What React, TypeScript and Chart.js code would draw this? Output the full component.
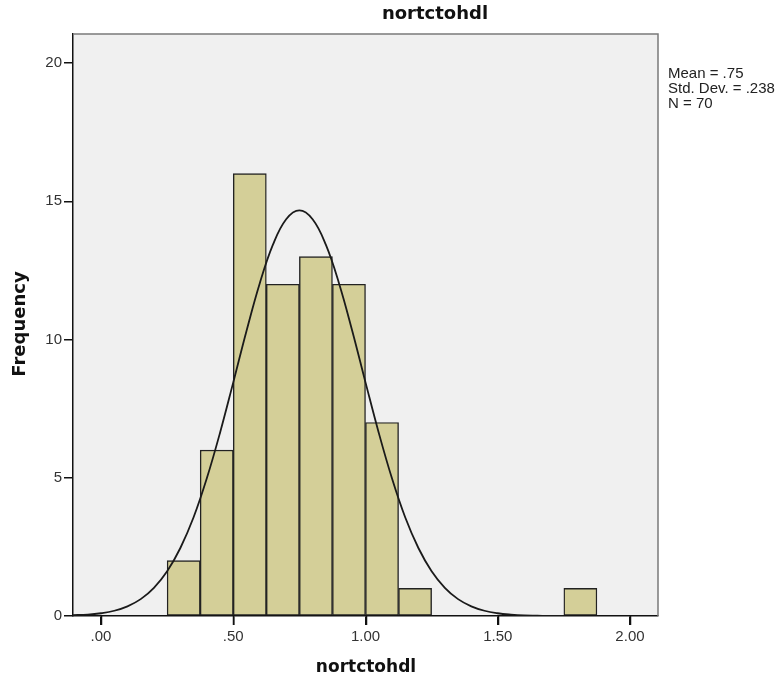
import React, { useEffect, useRef } from "react";
import { Chart, registerables } from "chart.js";

Chart.register(...registerables);

// Histogram bins (centre of each 0.125-wide bin) and frequencies
const binCenters = [0.3125, 0.4375, 0.5625, 0.6875, 0.8125, 0.9375, 1.0625, 1.1875, 1.8125];
const frequencies = [2, 6, 16, 12, 13, 12, 7, 1, 1];

// Normal curve
const curveX = [-0.11, -0.05, 0, 0.05, 0.1, 0.15, 0.2, 0.25, 0.3, 0.35, 0.4, 0.45, 0.5, 0.55, 0.6, 0.65, 0.7, 0.75, 0.8, 0.85, 0.9, 0.95, 1.0, 1.05, 1.1, 1.15, 1.2, 1.25, 1.3, 1.35, 1.4, 1.45, 1.5, 1.55, 1.6, 1.65, 1.7, 1.75];
const curveY = [0.03, 0.05, 0.1, 0.19, 0.35, 0.61, 1.02, 1.62, 2.46, 3.57, 4.98, 6.63, 8.45, 10.31, 12.03, 13.43, 14.35, 14.67, 14.35, 13.43, 12.03, 10.31, 8.45, 6.63, 4.98, 3.57, 2.46, 1.62, 1.02, 0.61, 0.35, 0.19, 0.1, 0.05, 0.02, 0.01, 0.0, 0.0];

const xTicks = [0, 0.5, 1.0, 1.5, 2.0];
const yTicks = [0, 5, 10, 15, 20];

const chartTitle = "nortctohdl";
const xTitle = "nortctohdl";
const yTitle = "Frequency";
const statsLines = ["Mean = .75", "Std. Dev. = .238", "N = 70"];

const fmtX = (v: number) => {
  const s = v.toFixed(2);
  return s.startsWith("0") ? s.slice(1) : s;
};

export default function App() {
  const ref = useRef<HTMLCanvasElement | null>(null);

  useEffect(() => {
    document.body.style.margin = "0";
    const canvas = ref.current;
    if (!canvas) return;

    const decor = {
      id: "decor",
      beforeDraw(chart: any) {
        const { ctx, chartArea } = chart;
        ctx.save();
        ctx.fillStyle = "#ffffff";
        ctx.fillRect(0, 0, chart.width, chart.height);
        ctx.fillStyle = "#f0f0f0";
        ctx.fillRect(chartArea.left, chartArea.top, chartArea.right - chartArea.left, chartArea.bottom - chartArea.top);
        ctx.restore();
      },
      afterDraw(chart: any) {
        const { ctx, chartArea } = chart;
        const xs = chart.scales.x;
        ctx.save();
        ctx.strokeStyle = "#7a7a7a";
        ctx.lineWidth = 1.5;
        ctx.beginPath();
        ctx.moveTo(chartArea.left, chartArea.top);
        ctx.lineTo(chartArea.right, chartArea.top);
        ctx.lineTo(chartArea.right, chartArea.bottom);
        ctx.stroke();

        // x-axis tick marks
        ctx.strokeStyle = "#111";
        ctx.lineWidth = 1.5;
        ctx.beginPath();
        xTicks.forEach((v) => {
          const px = Math.round(xs.getPixelForValue(v)) + 0.5;
          ctx.moveTo(px, chartArea.bottom);
          ctx.lineTo(px, chartArea.bottom + 9);
        });
        ctx.stroke();

        ctx.fillStyle = "#111";
        ctx.textAlign = "center";
        ctx.textBaseline = "middle";
        ctx.font = "bold 18px 'DejaVu Sans'";
        ctx.fillText(chartTitle, 435, 14);
        ctx.font = "bold 17px 'DejaVu Sans'";
        ctx.fillText(xTitle, 366, 668);
        ctx.save();
        ctx.translate(20, 324);
        ctx.rotate(-Math.PI / 2);
        ctx.font = "bold 18px 'DejaVu Sans'";
        ctx.fillText(yTitle, 0, 0);
        ctx.restore();

        ctx.font = "15px 'Liberation Sans'";
        ctx.textAlign = "left";
        ctx.textBaseline = "top";
        ctx.fillStyle = "#222";
        statsLines.forEach((t, i) => ctx.fillText(t, 668, 66 + i * 15));
        ctx.restore();
      },
    };

    const chart = new Chart(canvas, {
      type: "bar",
      data: {
        datasets: [
          {
            type: "line",
            data: curveX.map((x, i) => ({ x, y: curveY[i] })),
            borderColor: "#1a1a1a",
            borderWidth: 1.8,
            pointRadius: 0,
            tension: 0.4,
            fill: false,
            order: 0,
          } as any,
          {
            type: "bar",
            data: binCenters.map((x, i) => ({ x, y: frequencies[i] })),
            backgroundColor: "#d4cf98",
            borderColor: "#222",
            borderWidth: 1.4,
            borderSkipped: false,
            barPercentage: 1,
            categoryPercentage: 1,
            grouped: false,
            order: 1,
          } as any,
        ],
      },
      options: {
        animation: false,
        responsive: false,
        maintainAspectRatio: false,
        layout: { padding: { left: 0, right: 122, top: 34, bottom: 0 } },
        plugins: { legend: { display: false }, tooltip: { enabled: false }, title: { display: false } },
        scales: {
          x: {
            type: "linear",
            min: -0.106,
            max: 2.106,
            offset: false,
            afterBuildTicks: (s: any) => {
              s.ticks = xTicks.map((v) => ({ value: v }));
            },
            afterFit: (s: any) => {
              s.height = 65;
            },
            grid: { offset: false, drawOnChartArea: false, drawTicks: true, tickLength: 9, color: "#111", lineWidth: 1.5 },
            border: { display: true, color: "#111", width: 1.5 },
            ticks: {
              callback: (v: any) => fmtX(Number(v)),
              font: { family: "'Liberation Sans'", size: 15 },
              color: "#333",
              padding: 3,
              maxRotation: 0,
              autoSkip: false,
            },
          },
          y: {
            type: "linear",
            min: 0,
            max: 21.05,
            afterBuildTicks: (s: any) => {
              s.ticks = yTicks.map((v) => ({ value: v }));
            },
            afterFit: (s: any) => {
              s.width = 73;
            },
            grid: { drawOnChartArea: false, drawTicks: true, tickLength: 9, color: "#111", lineWidth: 1.5 },
            border: { display: true, color: "#111", width: 1.5 },
            ticks: {
              font: { family: "'Liberation Sans'", size: 15 },
              color: "#333",
              padding: 2,
              autoSkip: false,
            },
          },
        },
      } as any,
      plugins: [decor],
    });

    return () => chart.destroy();
  }, []);

  return (
    <div style={{ width: 780, height: 681 }}>
      <canvas ref={ref} width={780} height={681} style={{ display: "block", width: 780, height: 681 }} />
    </div>
  );
}
